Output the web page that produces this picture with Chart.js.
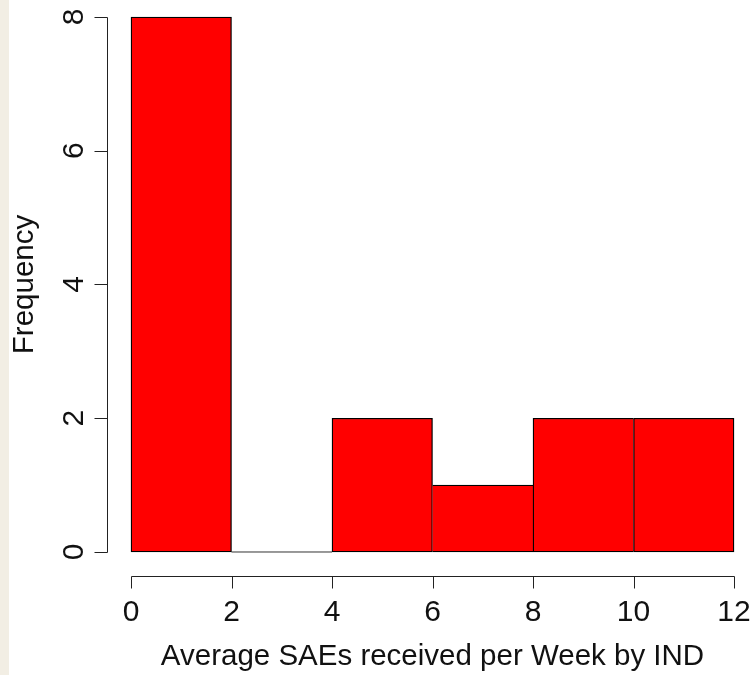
<!DOCTYPE html>
<html>
<head>
<meta charset="utf-8">
<script src="https://cdn.jsdelivr.net/npm/chart.js@4/dist/chart.umd.min.js"></script>
<style>
  html, body { margin: 0; padding: 0; }
  #wrap {
    width: 753px; height: 675px;
    background: linear-gradient(to right, #f2eee4 0, #f2eee4 9px, #ffffff 9px);
  }
  canvas { display: block; }
</style>
</head>
<body>
<div id="wrap"><canvas id="hist" width="753" height="675"></canvas></div>
<script>
// Histogram bins and frequencies
const binEdges = [0, 2, 4, 6, 8, 10, 12];
const counts = [8, 0, 2, 1, 2, 2];

// Axis tick values
const xTickValues = [0, 2, 4, 6, 8, 10, 12];
const yTickValues = [0, 2, 4, 6, 8];

// Axis titles
const xTitle = 'Average SAEs received per Week by IND';
const yTitle = 'Frequency';

const TICK_FONT = '30px "Liberation Sans", Arial, sans-serif';
const TITLE_FONT = '29.5px "Liberation Sans", Arial, sans-serif';
const INK = '#111';
const AXIS = '#222';

// One bar per bin, centred on the bin midpoint
const barData = counts.map((c, i) => ({ x: (binEdges[i] + binEdges[i + 1]) / 2, y: c }));

// Empty bins still show their zero-height outline along the baseline
const baselineData = [];
counts.forEach((c, i) => {
  if (c === 0) {
    baselineData.push({ x: binEdges[i], y: 0 }, { x: binEdges[i + 1], y: 0 }, { x: NaN, y: null });
  }
});

// Share outlines between neighbouring bars so each edge is drawn once
function edgeWidths(ctx) {
  const i = ctx.dataIndex;
  const cur = counts[i];
  if (cur === 0) return 0;
  const prev = i > 0 ? counts[i - 1] : -1;
  const next = i < counts.length - 1 ? counts[i + 1] : -1;
  return {
    top: 1.3,
    bottom: 1.3,
    left: prev <= cur ? 1.3 : 0,
    right: next < cur ? 1.3 : 0
  };
}

// R-style axes: detached lines spanning first to last tick, with outward ticks
const baseAxes = {
  id: 'baseAxes',
  afterDraw(chart) {
    const { ctx, chartArea: area, scales: { x, y } } = chart;
    ctx.save();
    ctx.strokeStyle = AXIS;
    ctx.lineWidth = 1;
    ctx.fillStyle = INK;
    ctx.font = TICK_FONT;

    // vertical axis
    const ax = Math.round(area.left) + 0.5;
    const yTop = Math.round(y.getPixelForValue(yTickValues[yTickValues.length - 1])) + 0.5;
    const yBot = Math.round(y.getPixelForValue(yTickValues[0])) + 0.5;
    ctx.beginPath();
    ctx.moveTo(ax, yTop);
    ctx.lineTo(ax, yBot);
    yTickValues.forEach(v => {
      const py = Math.round(y.getPixelForValue(v)) + 0.5;
      ctx.moveTo(ax, py);
      ctx.lineTo(ax - 13, py);
    });
    ctx.stroke();

    ctx.textAlign = 'center';
    ctx.textBaseline = 'alphabetic';
    yTickValues.forEach(v => {
      ctx.save();
      ctx.translate(ax - 24.5, y.getPixelForValue(v));
      ctx.rotate(-Math.PI / 2);
      ctx.fillText(String(v), 0, 0);
      ctx.restore();
    });

    // horizontal axis
    const ay = Math.round(area.bottom) + 0.5;
    const xL = Math.round(x.getPixelForValue(xTickValues[0])) + 0.5;
    const xR = Math.round(x.getPixelForValue(xTickValues[xTickValues.length - 1])) + 0.5;
    ctx.beginPath();
    ctx.moveTo(xL, ay);
    ctx.lineTo(xR, ay);
    xTickValues.forEach(v => {
      const px = Math.round(x.getPixelForValue(v)) + 0.5;
      ctx.moveTo(px, ay);
      ctx.lineTo(px, ay + 12);
    });
    ctx.stroke();

    xTickValues.forEach(v => {
      ctx.fillText(String(v), x.getPixelForValue(v), ay + 44.5);
    });

    // axis titles, centred on the middle of the value ranges
    ctx.font = TITLE_FONT;
    const xMid = x.getPixelForValue((xTickValues[0] + xTickValues[xTickValues.length - 1]) / 2);
    ctx.fillText(xTitle, xMid, ay + 88.5);

    const yMid = y.getPixelForValue((yTickValues[0] + yTickValues[yTickValues.length - 1]) / 2);
    ctx.save();
    ctx.translate(ax - 75, yMid);
    ctx.rotate(-Math.PI / 2);
    ctx.fillText(yTitle, 0, 0);
    ctx.restore();

    ctx.restore();
  }
};

new Chart(document.getElementById('hist'), {
  type: 'bar',
  data: {
    datasets: [
      {
        type: 'bar',
        data: barData,
        backgroundColor: ctx => (counts[ctx.dataIndex] === 0 ? 'rgba(0,0,0,0)' : '#ff0000'),
        borderColor: '#000000',
        borderWidth: edgeWidths,
        borderSkipped: false,
        barPercentage: 1,
        categoryPercentage: 1,
        grouped: false
      },
      {
        type: 'line',
        data: baselineData,
        borderColor: '#333333',
        borderWidth: 1,
        pointRadius: 0,
        spanGaps: false,
        fill: false
      }
    ]
  },
  options: {
    responsive: false,
    animation: false,
    devicePixelRatio: 1,
    layout: { padding: { left: 107, top: 0, right: 0, bottom: 99 } },
    plugins: { legend: { display: false }, tooltip: { enabled: false } },
    scales: {
      x: {
        type: 'linear',
        display: false,
        offset: false,
        min: -0.4776,
        max: 12.378,
        grid: { offset: false },
        afterBuildTicks: s => { s.ticks = xTickValues.map(v => ({ value: v })); }
      },
      y: {
        type: 'linear',
        display: false,
        min: -0.359,
        max: 8.254,
        afterBuildTicks: s => { s.ticks = yTickValues.map(v => ({ value: v })); }
      }
    }
  },
  plugins: [baseAxes]
});
</script>
</body>
</html>
